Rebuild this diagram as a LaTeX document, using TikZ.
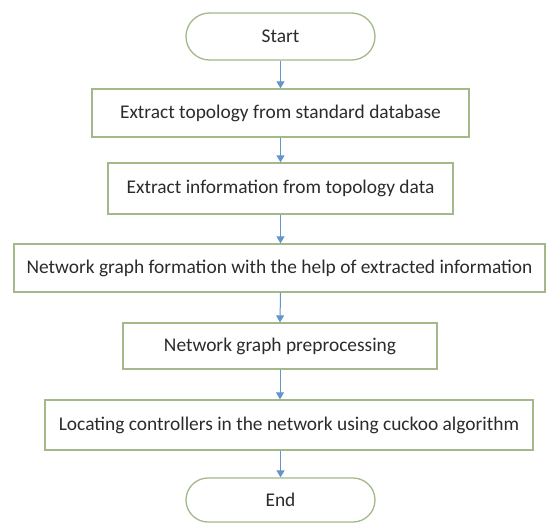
\documentclass[tikz,border=0pt]{standalone}
\usepackage{fontspec}
\setmainfont{Carlito}
\usetikzlibrary{positioning, arrows.meta, shapes.misc}

\definecolor{boxline}{HTML}{A3B98A}
\definecolor{flowline}{HTML}{6394CA}
\definecolor{boxtext}{HTML}{2B2B2B}

\tikzset{
  stepbox/.style={draw=boxline, line width=1.3pt, rectangle, text=boxtext,
    font=\fontsize{19.4}{22}\selectfont, inner sep=0pt},
  termbox/.style={stepbox, rounded rectangle},
  flow/.style={-{Triangle[width=8pt,length=7pt]}, draw=flowline, line width=1pt}
}

\begin{document}
\begin{tikzpicture}[x=1pt, y=-1pt]
  \useasboundingbox (0,0) rectangle (547,523);
  \node[termbox, minimum width=189pt, minimum height=47pt] (start) at (280.5,36.5) {Start};
  \node[stepbox, minimum width=377pt, minimum height=48pt] (topo) at (280.5,113) {Extract topology from standard database};
  \node[stepbox, minimum width=345pt, minimum height=51pt] (info) at (280.5,188.5) {Extract information from topology data};
  \node[stepbox, minimum width=531pt, minimum height=48pt] (graph) at (279.5,268) {Network graph formation with the help of extracted information};
  \node[stepbox, minimum width=314pt, minimum height=46pt] (prep) at (280,346) {Network graph preprocessing};
  \node[stepbox, minimum width=488pt, minimum height=50pt] (cuckoo) at (289,425) {Locating controllers in the network using cuckoo algorithm};
  \node[termbox, minimum width=189pt, minimum height=44pt] (end) at (280.5,500) {End};

  % arrows down the chain
  \draw[flow] (start.south) -- (topo.north);
  \draw[flow] (topo.south) -- (info.north);
  \draw[flow] (info.south) -- (graph.north -| info.south);
  \draw[flow] (graph.south -| info.south) -- (prep.north);
  \draw[flow] (prep.south) -- (cuckoo.north -| prep.south);
  \draw[flow] (cuckoo.south -| end.north) -- (end.north);
\end{tikzpicture}
\end{document}
